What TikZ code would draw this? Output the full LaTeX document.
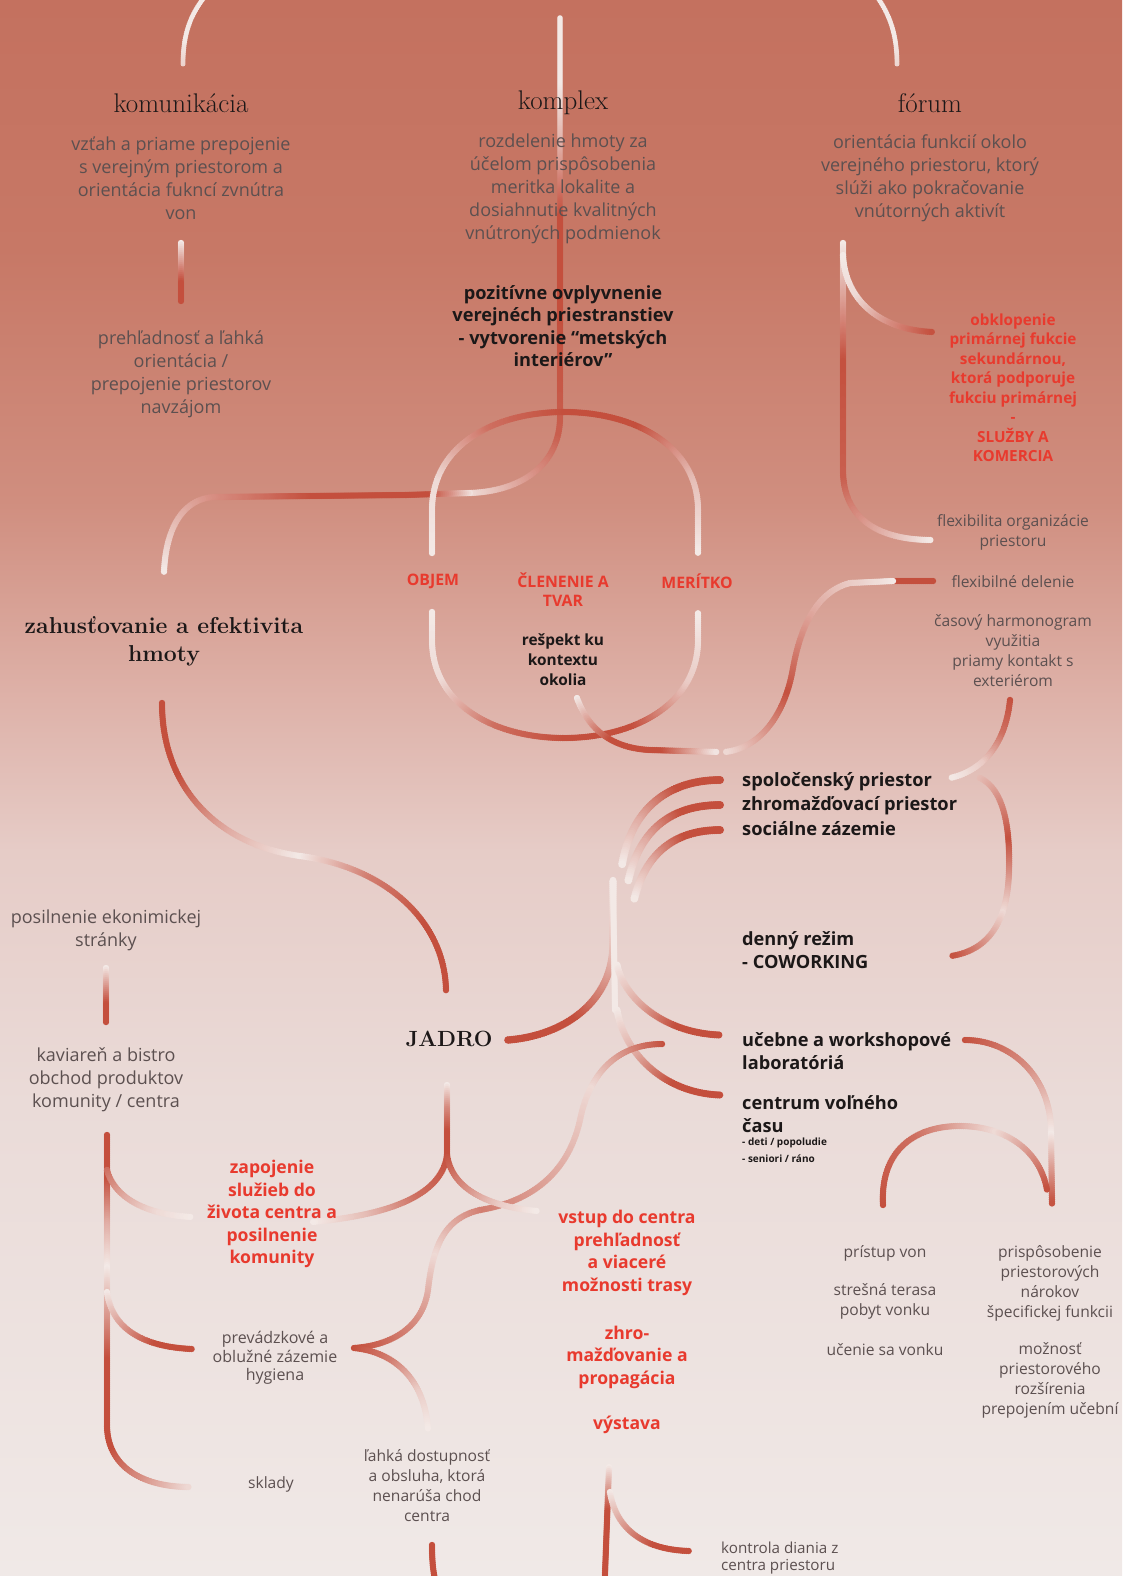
\documentclass[tikz,border=0pt]{standalone}
\usepackage{fontspec}
\newfontfamily\sansf{Open Sans}
\usetikzlibrary{decorations.markings}

\definecolor{TubeRed}{RGB}{196, 79, 61}
\definecolor{TubePale}{RGB}{243, 233, 230}
\definecolor{InkText}{RGB}{28, 24, 24}
\definecolor{GreyText}{RGB}{92, 80, 80}
\definecolor{AccentRed}{RGB}{232, 58, 46}
\definecolor{BgA}{RGB}{196, 113, 95}
\definecolor{BgB}{RGB}{199, 120, 102}
\definecolor{BgC}{RGB}{208, 142, 127}
\definecolor{BgD}{RGB}{222, 178, 169}
\definecolor{BgE}{RGB}{230, 204, 199}
\definecolor{BgF}{RGB}{234, 219, 216}
\definecolor{BgG}{RGB}{240, 233, 231}

% svetle pozadie smerom dole
\pgfdeclareverticalshading{posterbg}{100bp}{color(0bp)=(BgG); color(25bp)=(BgG); color(40bp)=(BgF); color(48bp)=(BgE); color(52.8bp)=(BgD); color(59.1bp)=(BgC); color(67.1bp)=(BgB); color(75bp)=(BgA); color(100bp)=(BgA)}

% jeden bod linky: farba sa prelieva podla polohy na krivke
\def\tuberad{3.2pt}
\newcommand\tubedot{%
  \pgfmathsetmacro\tubepos{\pgfkeysvalueof{/pgf/decoration/mark info/distance from start}/\pgfdecoratedpathlength}%
  \pgfmathtruncatemacro\tubemix{max(0,min(100,\tubepos<0.3333 ? \tubeA+(\tubeB-\tubeA)*3*\tubepos : (\tubepos<0.6667 ? \tubeB+(\tubeC-\tubeB)*(3*\tubepos-1) : \tubeC+(\tubeD-\tubeC)*(3*\tubepos-2))))}%
  \fill[TubeRed!\tubemix!TubePale] (0,0) circle[radius=\tuberad];}

\begin{document}
\begin{tikzpicture}[
    x=1pt, y=-1pt,
    tube width/.code={\def\tuberad{#1}},
    tube/.style n args={4}{/utils/exec={\def\tubeA{#1}\def\tubeB{#2}\def\tubeC{#3}\def\tubeD{#4}},
        decoration={markings, mark=between positions 0 and 1 step 2pt with {\tubedot}}, decorate},
    head/.style={font=\fontsize{27}{29}\selectfont, text=InkText, inner sep=0pt},
    headbold/.style={font=\bfseries\fontsize{23}{28}\selectfont, text=InkText, align=center, inner sep=0pt},
    body/.style={font=\sansf\fontsize{18}{23}\selectfont, text=GreyText, align=center, inner sep=0pt},
    small/.style={font=\sansf\fontsize{15.6}{20}\selectfont, text=GreyText, align=center, inner sep=0pt},
    strong/.style={font=\sansf\bfseries\fontsize{18.2}{22.5}\selectfont, text=InkText, align=center, inner sep=0pt},
    strongsmall/.style={strong, font=\sansf\bfseries\fontsize{15.4}{20}\selectfont},
    accent/.style={font=\sansf\bfseries\fontsize{17.6}{22.5}\selectfont, text=AccentRed, align=center, inner sep=0pt},
    accentsmall/.style={accent, font=\sansf\bfseries\fontsize{15.3}{19.5}\selectfont},
    caps/.style={accent, font=\sansf\bfseries\fontsize{15.8}{19}\selectfont},
    tiny/.style={font=\sansf\bfseries\fontsize{10}{17}\selectfont, text=InkText, align=left, inner sep=0pt}
  ]

  % --- PLOCHA A POZADIE ---
  \useasboundingbox (0,0) rectangle (1122,1576);
  \shade[shading=posterbg] (0,0) rectangle (1122,1576);

  % --- LINKY: HORNA CAST ---
  \path[tube={15}{0}{0}{0}, tube width=2.5pt] (183,64) .. controls (183,35) and (190,14) .. (207,-6);
  \path[tube={12}{0}{0}{0}, tube width=2.5pt] (897,64) .. controls (897,35) and (890,14) .. (875,-6);
  \path[tube={0}{0}{40}{100}, tube width=2.8pt] (560,18) -- (560,215);
  \path[tube={100}{100}{90}{10}] (560,215) -- (560,417) .. controls (560,462) and (525,491) .. (470,493);
  \path[tube={5}{60}{100}{100}] (470,493) -- (405,495);
  \path[tube={100}{100}{60}{0}] (405,495) -- (215,497) .. controls (185,498) and (166,525) .. (164,572);
  \path[tube={0}{50}{100}{100}] (181,243) -- (181,302);

  % forum - bocna zatvorka
  \path[tube={0}{100}{90}{0}] (843,243) -- (843,470) .. controls (843,520) and (880,540) .. (932,540);
  \path[tube={0}{10}{60}{100}] (843,255) .. controls (845,300) and (880,330) .. (933,332);

  % --- KRUH ---
  \path[tube={0}{10}{80}{100}] (432,553) -- (432,510) .. controls (432,445) and (495,412) .. (564,412);
  \path[tube={100}{100}{30}{0}] (564,412) .. controls (633,412) and (698,445) .. (698,510) -- (698,553);
  \path[tube={0}{10}{80}{100}] (432,612) -- (432,640) .. controls (432,705) and (495,738) .. (564,738);
  \path[tube={100}{100}{20}{0}] (564,738) .. controls (633,738) and (698,705) .. (698,640) -- (698,612);
  \path[tube={0}{100}{100}{0}] (577,698) .. controls (588,728) and (610,748) .. (650,750) -- (718,752);

  % flexibilne delenie
  \path[tube={100}{100}{100}{100}] (893,581) -- (933,581);
  \path[tube={0}{40}{100}{10}] (893,581) -- (850,583) .. controls (815,592) and (800,630) .. (793,668) .. controls (785,715) and (760,748) .. (725,752);

  % casovy harmonogram
  \path[tube={100}{80}{20}{0}] (1010,700) .. controls (1006,740) and (986,770) .. (950,778);
  \path[tube={30}{100}{10}{100}] (980,778) .. controls (1005,790) and (1010,830) .. (1009,870) .. controls (1008,920) and (990,950) .. (951,956);

  % --- LAVA STRANA ---
  \path[tube={100}{100}{40}{0}] (162,703) .. controls (162,790) and (220,845) .. (300,856);
  \path[tube={0}{70}{100}{100}] (300,856) .. controls (390,868) and (446,925) .. (446,992);
  \path[tube={0}{50}{100}{100}] (106,968) -- (106,1022);
  \path[tube={100}{100}{40}{0}] (107,1135) -- (107,1268);
  \path[tube={0}{100}{100}{10}] (107,1268) -- (107,1425) .. controls (107,1465) and (140,1487) .. (190,1487);
  \path[tube={80}{40}{10}{0}] (107,1170) .. controls (115,1200) and (150,1215) .. (192,1217);
  \path[tube={0}{50}{100}{100}] (107,1292) .. controls (112,1330) and (145,1347) .. (192,1349);

  % --- JADRO A VETVY ---
  \path[tube={100}{100}{30}{0}, tube width=3.8pt] (508,1040) .. controls (560,1036) and (612,1005) .. (613,945) -- (613,880);
  \path[tube={100}{100}{40}{0}, tube width=4pt] (720,780) .. controls (672,780) and (632,805) .. (622,865);
  \path[tube={100}{100}{40}{0}, tube width=4pt] (720,805) .. controls (675,805) and (640,826) .. (628,882);
  \path[tube={100}{100}{40}{0}, tube width=4pt] (720,830) .. controls (678,830) and (646,850) .. (634,900);
  \path[tube={0}{0}{0}{0}] (613,880) -- (615,1010);
  \path[tube={0}{40}{100}{100}, tube width=3.6pt] (617,965) .. controls (625,1000) and (665,1033) .. (720,1035);
  \path[tube={0}{40}{100}{100}, tube width=3.6pt] (617,1010) .. controls (625,1055) and (665,1093) .. (720,1095);

  \path[tube={100}{10}{40}{70}] (662,1044) .. controls (620,1044) and (590,1070) .. (580,1120) .. controls (570,1165) and (540,1200) .. (480,1210);
  \path[tube={70}{10}{60}{100}] (480,1210) .. controls (445,1218) and (433,1245) .. (428,1290) .. controls (423,1325) and (395,1345) .. (354,1348);
  \path[tube={100}{70}{20}{0}] (354,1348) .. controls (395,1352) and (425,1380) .. (428,1430);

  \path[tube={0}{60}{100}{100}] (447,1085) -- (447,1155);
  \path[tube={100}{80}{30}{0}] (447,1155) .. controls (442,1195) and (390,1215) .. (312,1222);
  \path[tube={100}{60}{20}{0}] (447,1155) .. controls (452,1190) and (490,1207) .. (538,1211);

  % spodok
  \path[tube={100}{100}{100}{100}] (432,1545) .. controls (432,1575) and (436,1590) .. (446,1600);
  \path[tube={0}{100}{100}{100}] (609,1467) -- (604,1600);
  \path[tube={0}{50}{100}{100}] (610,1492) .. controls (616,1530) and (645,1550) .. (690,1551);

  % --- PRAVA DOLNA CAST ---
  \path[tube={100}{60}{0}{100}] (965,1040) .. controls (1010,1040) and (1050,1075) .. (1051,1130) -- (1052,1205);
  \path[tube={100}{80}{10}{100}] (883,1205) .. controls (880,1150) and (915,1126) .. (960,1126) .. controls (1005,1126) and (1040,1150) .. (1047,1190);

  % --- NADPISY ---
  \node[head] (komunikacia) at (181,103) {komunikácia};
  \node[head] (komplex) at (563,103) {komplex};
  \node[head] (forum) at (930,103) {fórum};
  \node[headbold] (zahust) at (164,641) {zahusťovanie a efektivita\\hmoty};
  \node[headbold, font=\bfseries\fontsize{22}{24}\selectfont] (jadro) at (449,1039) {JADRO};

  % --- TEXTY HORE ---
  \node[body] (komText) at (181,178) {vzťah a priame prepojenie\\s verejným priestorom a\\orientácia fukncí zvnútra\\von};
  \node[body] (komplexText) at (563,189) {rozdelenie hmoty za\\účelom prispôsobenia\\meritka lokalite a\\dosiahnutie kvalitných\\vnútroných podmienok};
  \node[body] (forumText) at (930,178) {orientácia funkcií okolo\\verejného priestoru, ktorý\\slúži ako pokračovanie\\vnútorných aktivít};
  \node[strong] (pozitivne) at (563,326) {pozitívne ovplyvnenie\\verejnéch priestranstiev\\- vytvorenie “metských\\interiérov”};
  \node[body] (prehladnost) at (181,374) {prehľadnosť a ľahká\\orientácia /\\prepojenie priestorov\\navzájom};
  \node[accentsmall] (obklopenie) at (1013,388) {obklopenie\\primárnej fukcie\\sekundárnou,\\ktorá podporuje\\fukciu primárnej\\-\\SLUŽBY A\\KOMERCIA};
  \node[small] (flexOrg) at (1013,532) {flexibilita organizácie\\priestoru};
  \node[small] (flexDel) at (1013,582) {flexibilné delenie};
  \node[small] (casovy) at (1013,651) {časový harmonogram\\využitia\\priamy kontakt s\\exteriérom};

  % --- KRUH: POPISY ---
  \node[caps] (objem) at (433,581) {OBJEM};
  \node[caps] (clenenie) at (563,590) {ČLENENIE A\\TVAR};
  \node[caps] (meritko) at (697,581) {MERÍTKO};
  \node[strongsmall] (respekt) at (563,660) {rešpekt ku\\kontextu\\okolia};

  % --- FUNKCIE VPRAVO ---
  \node[strong, anchor=west, align=left, font=\sansf\bfseries\fontsize{18.3}{24.5}\selectfont] (spolocensky) at (742,804) {spoločenský priestor\\zhromažďovací priestor\\sociálne zázemie};
  \node[strong, anchor=west, align=left] (denny) at (742,950) {denný režim\\- COWORKING};
  \node[strong, anchor=west, align=left] (ucebne) at (742,1051) {učebne a workshopové\\laboratóriá};
  \node[strong, anchor=west, align=left] (centrum) at (742,1114) {centrum voľného\\času};
  \node[tiny, anchor=north west] (centrumSub) at (742,1138) {- deti / popoludie\\- seniori / ráno};

  % --- LAVA A DOLNA CAST ---
  \node[body] (posilnenie) at (106,930) {posilnenie ekonimickej\\stránky};
  \node[body] (kaviaren) at (106,1080) {kaviareň a bistro\\obchod produktov\\komunity / centra};
  \node[accent] (zapojenie) at (272,1214) {zapojenie\\služieb do\\života centra a\\posilnenie\\komunity};
  \node[small, font=\sansf\fontsize{16}{18.5}\selectfont] (prevadzkove) at (275,1358) {prevádzkové a\\oblužné zázemie\\hygiena};
  \node[small] (sklady) at (271,1484) {sklady};
  \node[small] (lahka) at (427,1486) {ľahká dostupnosť\\a obsluha, ktorá\\nenarúša chod\\centra};
  \node[accent] (vstup) at (627,1253) {vstup do centra\\prehľadnosť\\a viaceré\\možnosti trasy};
  \node[accent] (zhro) at (627,1357) {zhro-\\mažďovanie a\\propagácia};
  \node[accent] (vystava) at (627,1425) {výstava};
  \node[small] (pristup) at (885,1253) {prístup von};
  \node[small] (stresna) at (885,1301) {strešná terasa\\pobyt vonku};
  \node[small] (ucenie) at (885,1350) {učenie sa vonku};
  \node[small] (prisposobenie) at (1050,1283) {prispôsobenie\\priestorových\\nárokov\\špecifickej funkcii};
  \node[small] (moznost) at (1050,1380) {možnosť\\priestorového\\rozšírenia\\prepojením učební};
  \node[small, anchor=west, align=left, font=\sansf\fontsize{15.2}{17}\selectfont] (kontrola) at (721,1558) {kontrola diania z\\centra priestoru};

\end{tikzpicture}
\end{document}
